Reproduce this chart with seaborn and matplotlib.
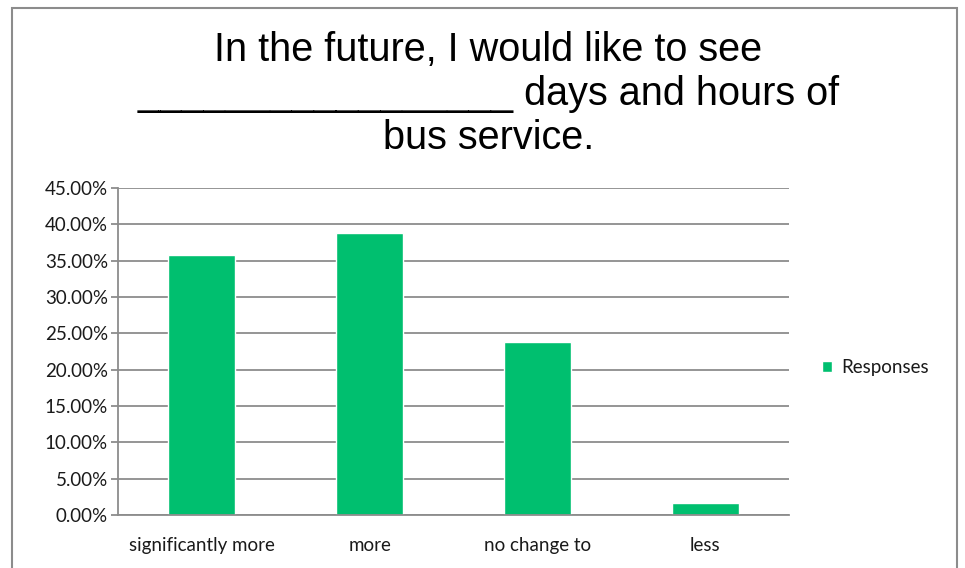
import matplotlib
matplotlib.use("Agg")
import matplotlib.pyplot as plt
import seaborn as sns
import pandas as pd
from matplotlib.ticker import FuncFormatter, FixedLocator
from matplotlib.patches import Rectangle

# data
categories = ["significantly more", "more", "no change to", "less"]
responses = [0.357, 0.388, 0.238, 0.016]
y_ticks = [0.0, 0.05, 0.10, 0.15, 0.20, 0.25, 0.30, 0.35, 0.40, 0.45]
series_name = "Responses"

df = pd.DataFrame({"category": categories, "value": responses, "series": series_name})

sns.set_style("white")
plt.rcParams["font.family"] = ["Lato", "DejaVu Sans"]

fig = plt.figure(figsize=(9.65, 5.68), dpi=100)
ax = fig.add_axes([0.122, 0.0933, 0.696, 0.576])

sns.barplot(data=df, x="category", y="value", hue="series",
            palette=["#00BF6F"], width=0.4, ax=ax, saturation=1)

ax.set_ylim(0, 0.45)
ax.set_xlim(-0.5, 3.5)
ax.yaxis.set_major_locator(FixedLocator(y_ticks))
ax.yaxis.set_major_formatter(FuncFormatter(lambda v, p: f"{v*100:.2f}%"))
ax.set_xlabel("")
ax.set_ylabel("")

grid_col = "#8c8c8c"
ax.grid(axis="y", color=grid_col, linewidth=1.3)
ax.set_axisbelow(True)
for s in ["top", "right"]:
    ax.spines[s].set_visible(False)
ax.spines["left"].set_color(grid_col)
ax.spines["left"].set_linewidth(1.3)
ax.spines["bottom"].set_color(grid_col)
ax.spines["bottom"].set_linewidth(1.3)

# excel style ticks: y ticks at gridlines, x ticks at category borders
ax.tick_params(axis="y", length=5, color=grid_col, width=1.3, labelsize=13.5,
               labelcolor="#1a1a1a", pad=2)
ax.set_xticks(range(len(categories)))
ax.tick_params(axis="x", length=0, labelsize=13.5, labelcolor="#1a1a1a", pad=16)
ax.set_xticks([-0.5, 0.5, 1.5, 2.5, 3.5], minor=True)
ax.tick_params(axis="x", which="minor", length=6, color=grid_col, width=1.3)
ax.tick_params(axis="y", left=True)

leg = ax.legend(loc="center left", bbox_to_anchor=(1.023, 0.45), frameon=False,
                fontsize=13.5, handlelength=0.55, handleheight=0.55, handletextpad=0.5)
for t in leg.get_texts():
    t.set_color("#1a1a1a")

title = ("In the future, I would like to see\n"
         "_________________ days and hours of\n"
         "bus service.")
fig.text(0.506, 0.945, title, ha="center", va="top", fontsize=28.5, color="black",
         family=["Liberation Sans", "DejaVu Sans"], linespacing=1.2)

# outer chart border
fig.patches.append(Rectangle((0.0125, -0.05), 0.979, 1.036, transform=fig.transFigure,
                             fill=False, edgecolor="#8c8c8c", linewidth=1.5))

fig.savefig("out.png", dpi=100)
